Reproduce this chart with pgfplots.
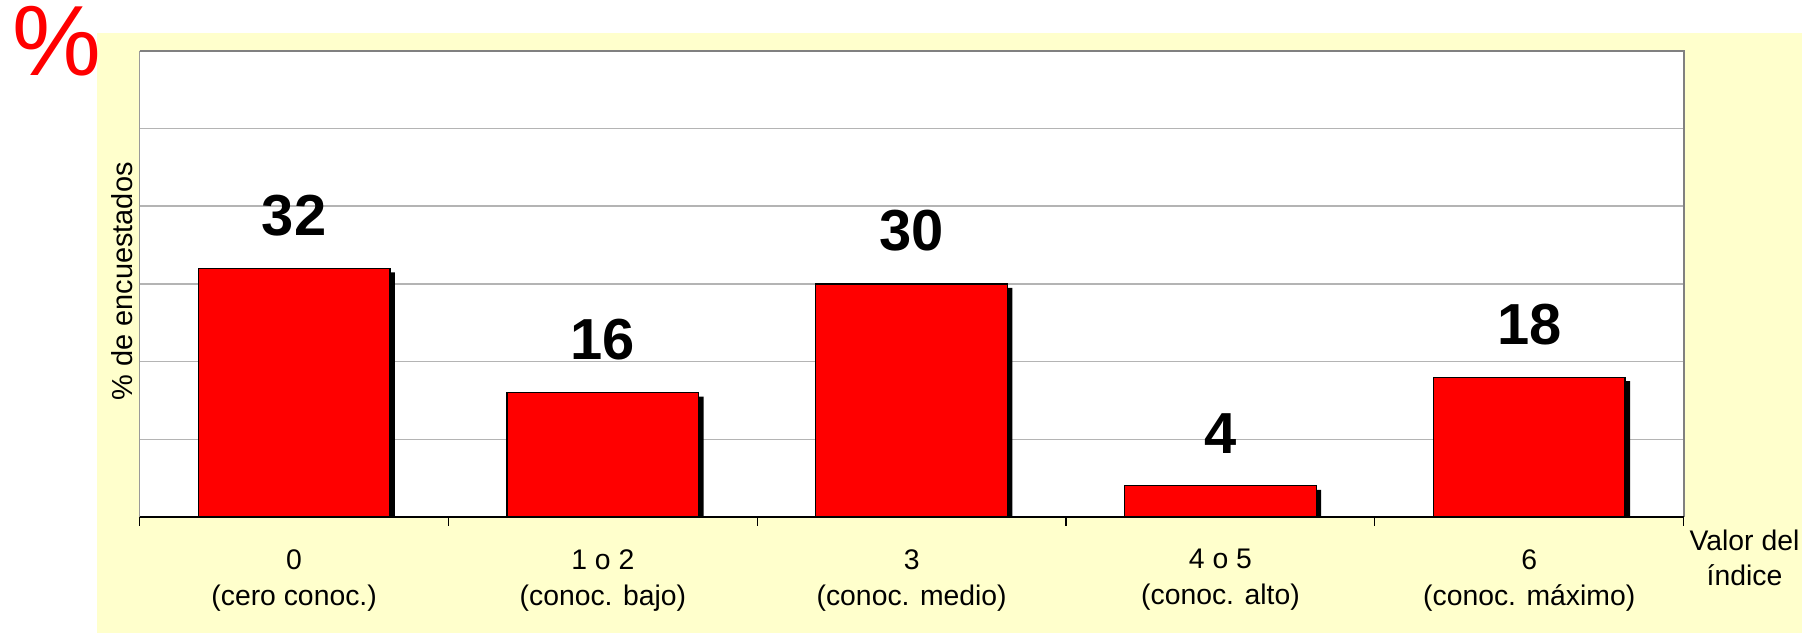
\documentclass[border=0pt]{standalone}
\usepackage{fontspec}
\setmainfont{Liberation Sans}
\usepackage{pgfplots}
\usepackage{pgfplotstable}
\pgfplotsset{compat=1.18}
\definecolor{bgyellow}{HTML}{FFFFCC}
\definecolor{barred}{HTML}{FF0000}
\definecolor{gridgray}{HTML}{B4B4B4}
\definecolor{bordergray}{HTML}{808080}

\pgfplotstableread{
x v
0 32
1 16
2 30
3 4
4 18
}\datatable

\begin{document}
\begin{tikzpicture}
\fill[white] (0,0) rectangle (903bp,317bp);
\fill[bgyellow] (48.5bp,0) rectangle (903bp,300.5bp);
\begin{axis}[
  at={(70bp,58bp)}, anchor=south west,
  scale only axis, width=773.5bp, height=233.5bp,
  xmin=-0.5, xmax=4.5, ymin=0, ymax=60,
  axis background/.style={fill=white},
  axis line style={draw=none},
  xtick pos=bottom, ytick pos=left,
  xtick={0,1,2,3,4},
  xticklabels={{0\\(cero conoc.)},{1 o 2\\(conoc. bajo)},{3\\(conoc. medio)},{4 o 5\\(conoc. alto)},{6\\(conoc. máximo)}},
  minor xtick={-0.5,0.5,1.5,2.5,3.5,4.5},
  ytick={0,10,20,30,40,50,60},
  yticklabels={},
  ymajorgrids,
  major grid style={gridgray, line width=0.75bp},
  major tick length=0pt,
  minor tick length=4.5bp,
  tick align=outside,
  minor x tick style={black, line width=0.6bp},
  xticklabel style={font=\fontsize{14.2bp}{18bp}\selectfont, align=center, anchor=north, inner sep=0pt, yshift=-16bp},
]
\addplot[ybar, bar width=96bp, bar shift=2.5bp, yshift=-2bp, fill=black, draw=none] table[x=x,y=v]{\datatable};
\addplot[ybar, bar width=96bp, bar shift=0pt, fill=barred, draw=black, line width=0.6bp,
  nodes near coords={\pgfmathprintnumber[assume math mode=true]{\pgfplotspointmeta}},
  every node near coord/.append style={font=\fontsize{29bp}{30bp}\selectfont\bfseries, text=black, anchor=south, inner sep=0pt, yshift=16bp}
] table[x=x,y=v]{\datatable};
\end{axis}
\draw[bordergray!80, line width=0.75bp] (70bp,58bp) -- (70bp,291.5bp);
\draw[bordergray, line width=1bp] (70bp,291.5bp) -- (843.5bp,291.5bp) -- (843.5bp,58bp);
\draw[black, line width=0.6bp] (70bp,58bp) -- (843.5bp,58bp);
\node[rotate=90, anchor=base, font=\fontsize{14.5bp}{17bp}\selectfont] at (66.5bp,176bp) {\% de encuestados};
\node[anchor=base, font=\fontsize{14.2bp}{17bp}\selectfont] at (874bp,41bp) {Valor del};
\node[anchor=base, font=\fontsize{14.2bp}{17bp}\selectfont] at (874bp,23.5bp) {índice};
\node[anchor=base, text=red, font=\fontsize{50bp}{54bp}\selectfont, inner sep=0pt] at (28.25bp,279bp) {\%};
\end{tikzpicture}
\end{document}
